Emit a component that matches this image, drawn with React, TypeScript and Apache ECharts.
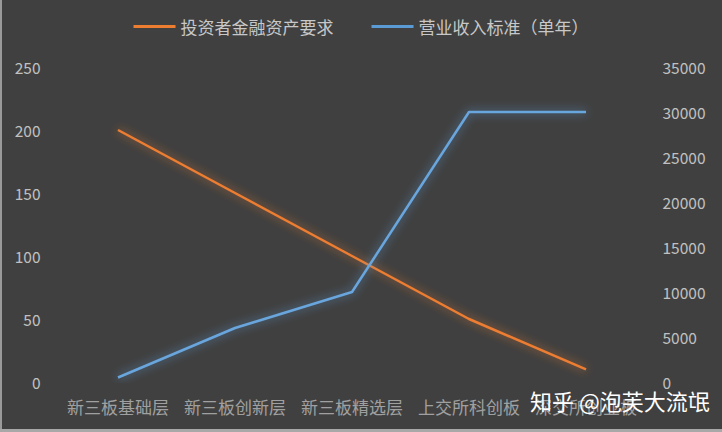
import React, { useEffect, useRef } from "react";
import * as echarts from "echarts";

const categories = ["新三板基础层", "新三板创新层", "新三板精选层", "上交所科创板", "深交所创业板"];
const assetReq = [200, 150, 100, 50, 10];
const revenueStd = [500, 6000, 10000, 30000, 30000];
const seriesNames = ["投资者金融资产要求", "营业收入标准（单年）"];
const watermark = "知乎 @泡芙大流氓";

export default function App() {
  const ref = useRef<HTMLDivElement>(null);
  useEffect(() => {
    const chart = echarts.init(ref.current!, null, { renderer: "svg" });
    const font = "'Noto Sans CJK SC', 'Microsoft YaHei', sans-serif";
    chart.setOption({
      animation: false,
      backgroundColor: "#404040",
      textStyle: { fontFamily: font },
      legend: {
        top: 13,
        left: "center",
        itemWidth: 42,
        itemHeight: 3,
        itemGap: 38,
        icon: "rect",
        textStyle: { color: "#c8c8c8", fontSize: 17, fontFamily: font },
        data: seriesNames,
      },
      grid: { left: 59.5, right: 77.5, top: 67, bottom: 50 },
      xAxis: {
        type: "category",
        data: categories,
        boundaryGap: true,
        axisLine: { show: false },
        axisTick: { show: false },
        axisLabel: { color: "#a0a0a0", fontSize: 17, margin: 16, interval: 0, fontFamily: font },
      },
      yAxis: [
        {
          type: "value",
          min: 0,
          max: 250,
          interval: 50,
          splitLine: { show: false },
          axisLine: { show: false },
          axisTick: { show: false },
          axisLabel: { color: "#c0c0c0", fontSize: 15.5, margin: 19, fontFamily: font },
        },
        {
          type: "value",
          min: 0,
          max: 35000,
          interval: 5000,
          splitLine: { show: false },
          axisLine: { show: false },
          axisTick: { show: false },
          axisLabel: {
            color: "#c0c0c0",
            fontSize: 15.5,
            margin: 18,
            fontFamily: font,
            formatter: (v: number) => String(v),
          },
        },
      ],
      series: [
        {
          name: seriesNames[0],
          type: "line",
          yAxisIndex: 0,
          data: assetReq,
          symbol: "none",
          color: "#ED7D31",
          lineStyle: { width: 2.5, color: "#ED7D31", shadowColor: "rgba(237,125,49,0.8)", shadowBlur: 10 },
        },
        {
          name: seriesNames[1],
          type: "line",
          yAxisIndex: 1,
          data: revenueStd,
          symbol: "none",
          color: "#5B9BD5",
          lineStyle: { width: 2.5, color: "#6aa6de", shadowColor: "rgba(91,155,213,0.8)", shadowBlur: 10 },
        },
      ],
      graphic: [
        { type: "rect", left: 0, top: 0, shape: { width: 2, height: 432 }, style: { fill: "#9a9a9a" }, z: 100 },
        { type: "rect", left: 0, top: 429, shape: { width: 722, height: 3 }, style: { fill: "#a8a8a8" }, z: 100 },
        {
          type: "text",
          left: 530,
          top: 389,
          z: 100,
          style: { text: watermark, fill: "#ffffff", font: `22px ${font}` },
        },
      ],
    });
    return () => chart.dispose();
  }, []);
  return <div ref={ref} style={{ position: "absolute", left: 0, top: 0, width: 722, height: 432 }} />;
}
